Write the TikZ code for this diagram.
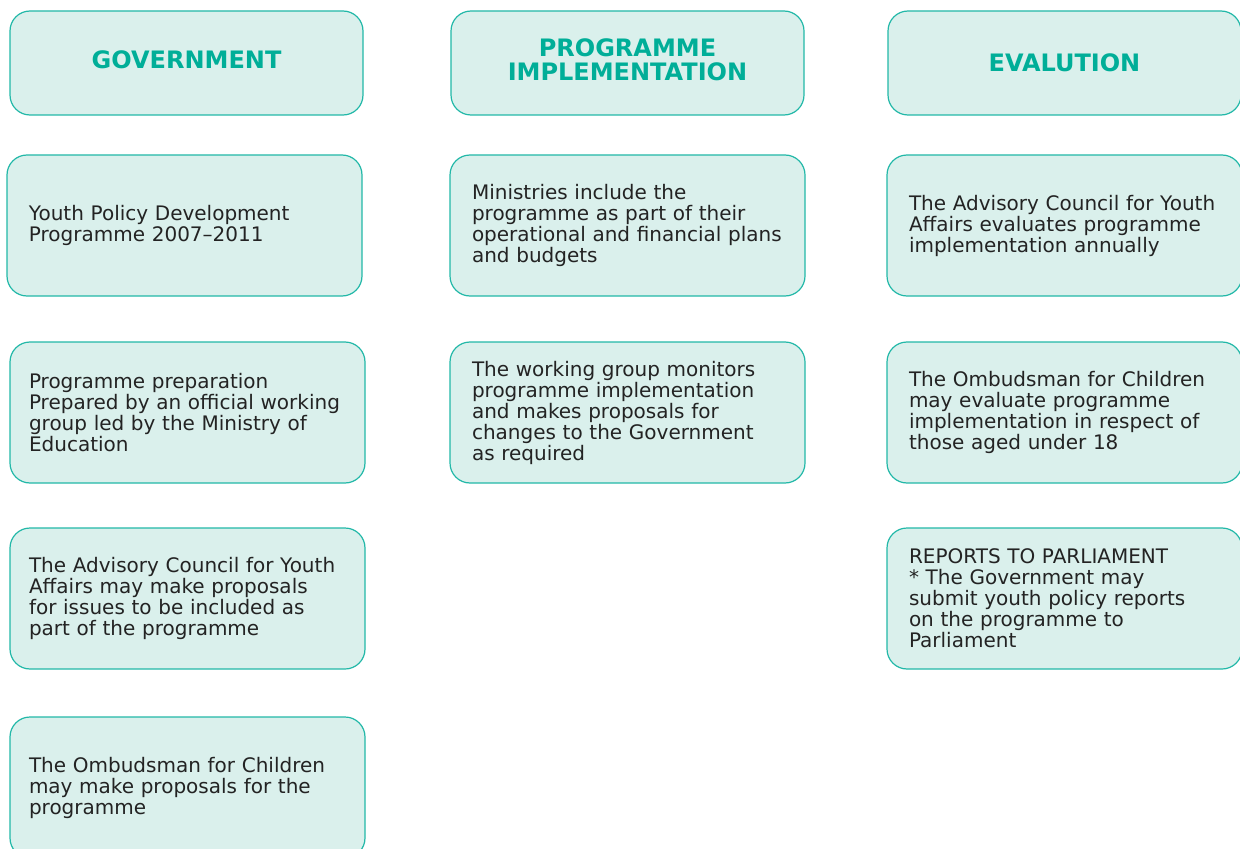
\documentclass[tikz,border=0pt]{standalone}
\usepackage{fontspec}
\setmainfont{DejaVu Sans}
\usetikzlibrary{positioning}
\definecolor{boxfill}{HTML}{DAF0EC}
\definecolor{boxline}{HTML}{22B8A8}
\definecolor{headtext}{HTML}{00AE98}
\definecolor{bodytext}{HTML}{232323}
\begin{document}
\begin{tikzpicture}[x=0.75pt, y=-0.75pt]
      \tikzstyle{baseBox} = [rectangle, rounded corners=15pt, draw=boxline, line width=0.9pt, fill=boxfill, inner ysep=0pt]
      \tikzstyle{headBox} = [baseBox, inner xsep=14.25pt, minimum width=264.75pt, minimum height=78pt, align=center, text=headtext, font=\fontsize{18}{18}\selectfont\bfseries]
      \tikzstyle{textBox} = [baseBox, inner xsep=0pt, minimum height=105.75pt, text width=266.25pt, align=left, text=bodytext, font=\fontsize{15}{15.75}\selectfont, execute at begin node={\leftskip=16.5pt}]
      \tikzstyle{nearBox} = [execute at begin node={\leftskip=14.25pt}]

      \useasboundingbox (0,0) rectangle (1240,849);
      \clip (0,0) rectangle (1240,849);

      % Titulos de columna
      \node at (186.5,63) [headBox, text depth=4.5pt] (gov) {GOVERNMENT};
      \node at (627.5,63) [headBox, text depth=4.5pt] (prog) {PROGRAMME\\IMPLEMENTATION};
      \node at (1064.5,63) [headBox] (eval) {EVALUTION};

      % Columna gobierno
      \node at (184.5,225.5) [textBox] (govDev) {Youth Policy Development\\Programme 2007--2011};
      \node at (187.5,412.5) [textBox, nearBox] (govPrep) {Programme preparation\\Prepared by an official working\\group led by the Ministry of\\Education};
      \node at (187.5,598.5) [textBox, nearBox] (govCouncil) {The Advisory Council for Youth\\Affairs may make proposals\\for issues to be included as\\part of the programme};
      \node at (187.5,787.5) [textBox, nearBox] (govOmb) {The Ombudsman for Children\\may make proposals for the\\programme};

      % Columna implementacion
      \node at (627.5,225.5) [textBox] (progMin) {Ministries include the\\programme as part of their\\operational and financial plans\\and budgets};
      \node at (627.5,412.5) [textBox] (progGroup) {The working group monitors\\programme implementation\\and makes proposals for\\changes to the Government\\as required};

      % Columna evaluacion
      \node at (1064.5,225.5) [textBox] (evalCouncil) {The Advisory Council for Youth\\Affairs evaluates programme\\implementation annually};
      \node at (1064.5,412.5) [textBox] (evalOmb) {The Ombudsman for Children\\may evaluate programme\\implementation in respect of\\those aged under 18};
      \node at (1064.5,598.5) [textBox] (evalRep) {REPORTS TO PARLIAMENT\\{}* The Government may\\submit youth policy reports\\on the programme to\\Parliament};

    \end{tikzpicture}
\end{document}
